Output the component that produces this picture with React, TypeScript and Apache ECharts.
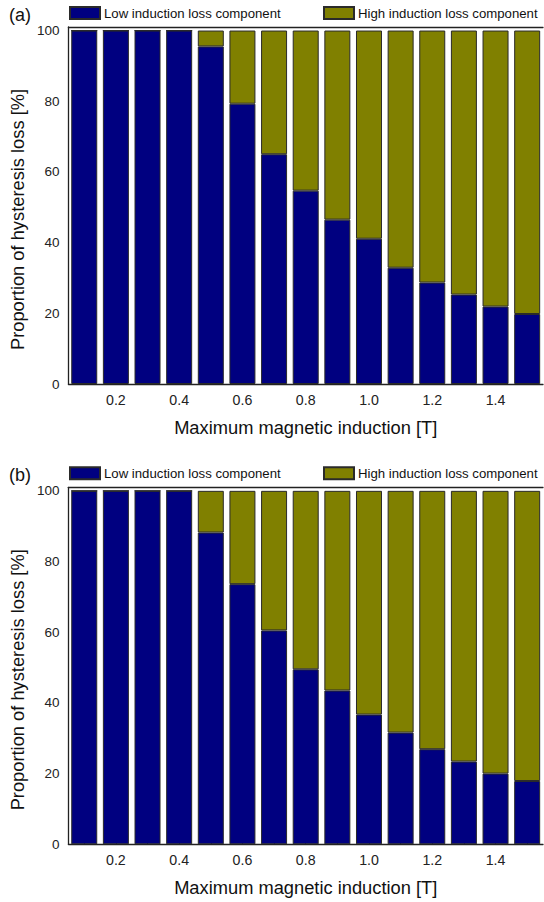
import React, { useEffect, useRef } from "react";
import * as echarts from "echarts";

const categories = ["0.1", "0.2", "0.3", "0.4", "0.5", "0.6", "0.7", "0.8", "0.9", "1.0", "1.1", "1.2", "1.3", "1.4", "1.5"];
const lowA = [100, 100, 100, 100, 95.5, 79.3, 65.0, 54.7, 46.5, 41.1, 32.9, 28.7, 25.3, 21.9, 19.8];
const highA = [0, 0, 0, 0, 4.5, 20.7, 35.0, 45.3, 53.5, 58.9, 67.1, 71.3, 74.7, 78.1, 80.2];
const lowB = [100, 100, 100, 100, 88.2, 73.6, 60.5, 49.5, 43.5, 36.7, 31.6, 26.9, 23.4, 20.0, 17.9];
const highB = [0, 0, 0, 0, 11.8, 26.4, 39.5, 50.5, 56.5, 63.3, 68.4, 73.1, 76.6, 80.0, 82.1];
const seriesNames = ["Low induction loss component", "High induction loss component"];
const panelLabels = ["(a)", "(b)"];
const xTitle = "Maximum magnetic induction [T]";
const yTitle = "Proportion of hysteresis loss [%]";

const FONT = 'Arial, "Liberation Sans", sans-serif';
const LOW_COLOR = "#000080";
const HIGH_COLOR = "#808000";
const AXIS_COLOR = "#222";

export default function App() {
  const ref = useRef<HTMLDivElement>(null);
  useEffect(() => {
    if (!ref.current) return;
    const chart = echarts.init(ref.current, null, { renderer: "svg" });
    const panelTops = [27, 487.3];
    const gridH = 357;
    const grids = panelTops.map((t) => ({ left: 67, width: 476, top: t, height: gridH, containLabel: false }));

    const xAxes: any[] = [];
    const yAxes: any[] = [];
    panelTops.forEach((_, gi) => {
      xAxes.push({
        type: "category",
        gridIndex: gi,
        data: categories,
        position: "bottom",
        name: xTitle,
        nameLocation: "middle",
        nameGap: 34,
        nameTextStyle: { fontFamily: FONT, fontSize: 18.3, color: "#111" },
        axisLine: { show: true, lineStyle: { color: AXIS_COLOR, width: 1.3 } },
        axisTick: { show: true, inside: true, alignWithLabel: true, interval: 0, length: 4, lineStyle: { color: AXIS_COLOR } },
        axisLabel: {
          interval: (i: number) => i % 2 === 1,
          fontFamily: FONT,
          fontSize: 14.2,
          color: "#222",
          margin: 9,
        },
        splitLine: { show: false },
      });
      xAxes.push({
        type: "category",
        gridIndex: gi,
        data: categories,
        position: "top",
        axisLine: { show: true, lineStyle: { color: AXIS_COLOR, width: 1.3 } },
        axisTick: { show: false },
        axisLabel: { show: false },
        splitLine: { show: false },
      });
      yAxes.push({
        type: "value",
        gridIndex: gi,
        min: 0,
        max: 101,
        interval: 20,
        name: yTitle,
        nameLocation: "middle",
        nameGap: 36,
        nameTextStyle: { fontFamily: FONT, fontSize: 18.3, color: "#111", padding: [0, 28, 0, 0] },
        axisLine: { show: true, lineStyle: { color: AXIS_COLOR, width: 1.3 } },
        axisTick: { show: false },
        axisLabel: {
          fontFamily: FONT,
          fontSize: 13.5,
          color: "#222",
          margin: 9,
          formatter: (v: number) => (v % 20 === 0 ? String(v) : ""),
        },
        splitLine: { show: false },
      });
    });

    const data = [
      [lowA, highA],
      [lowB, highB],
    ];
    const series: any[] = [];
    data.forEach((pair, gi) => {
      pair.forEach((vals, si) => {
        series.push({
          type: "bar",
          name: seriesNames[si],
          xAxisIndex: gi * 2,
          yAxisIndex: gi,
          stack: "s" + gi,
          data: vals,
          barWidth: 26,
          itemStyle: {
            color: si === 0 ? LOW_COLOR : HIGH_COLOR,
            borderColor: "#2a2a2a",
            borderWidth: 1,
          },
        });
      });
    });

    const legends: any[] = [];
    panelTops.forEach((t, gi) => {
      const top = t - 26;
      [69, 323].forEach((left, si) => {
        legends.push({
          data: [{ name: seriesNames[si], icon: "rect" }],
          left: left - 5,
          top: top,
          itemWidth: 30,
          itemHeight: 12,
          itemGap: 4,
          selectedMode: false,
          textStyle: { fontFamily: FONT, fontSize: 13.2, color: "#111", padding: [0, 0, 0, -1] },
        });
      });
    });

    chart.setOption({
      animation: false,
      backgroundColor: "#ffffff",
      grid: grids,
      xAxis: xAxes,
      yAxis: yAxes,
      legend: legends,
      series,
      graphic: panelTops.map((t, gi) => ({
        type: "text",
        left: 9,
        top: t - 21,
        style: { text: panelLabels[gi], font: `18px ${FONT}`, fill: "#111" },
      })),
    });
    return () => chart.dispose();
  }, []);
  return <div ref={ref} style={{ position: "absolute", left: 0, top: 0, width: 544, height: 902 }} />;
}
